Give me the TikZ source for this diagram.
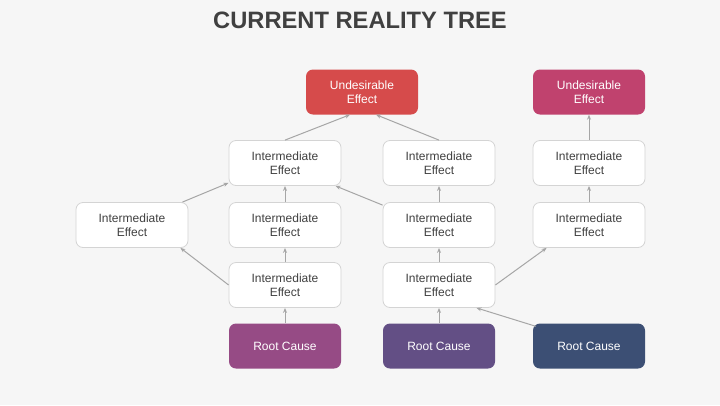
\documentclass[tikz,border=0pt]{standalone}
\usepackage{fontspec}
\setmainfont{Liberation Sans}
\usetikzlibrary{arrows.meta,calc}
\definecolor{bgcol}{HTML}{F6F6F6}
\definecolor{txtcol}{HTML}{404040}
\definecolor{linecol}{HTML}{A6A6A6}
\definecolor{boxline}{HTML}{D4D4D4}
\definecolor{uered}{HTML}{D64B4B}
\definecolor{uepink}{HTML}{C0426E}
\definecolor{rcplum}{HTML}{964B85}
\definecolor{rcviolet}{HTML}{634F85}
\definecolor{rcnavy}{HTML}{3C4F74}
\tikzset{
	effect/.style={draw=boxline, fill=white, rounded corners=7pt, line width=0.8pt,
		minimum width=112pt, minimum height=45pt, inner sep=0pt, align=center,
		text=txtcol, font=\fontsize{12}{14}\selectfont},
	solid box/.style={fill=#1, rounded corners=7pt, minimum width=112pt,
		minimum height=45pt, inner sep=0pt, align=center, text=white,
		font=\fontsize{12}{14}\selectfont},
	link/.style={draw=linecol, line width=1pt, -{Stealth[length=5pt,width=4pt]}}
}
\begin{document}
\begin{tikzpicture}[x=1pt,y=-1pt]
\fill[bgcol] (0,0) rectangle (720,405);
\useasboundingbox (0,0) rectangle (720,405);
\node[text=txtcol, font=\fontsize{23.7}{26}\selectfont\bfseries] (title) at (360,20) {CURRENT REALITY TREE};
\node[solid box=uered] (u1) at (362,92) {Undesirable\\Effect};
\node[solid box=uepink] (u2) at (589,92) {Undesirable\\Effect};
\node[effect] (m21) at (285,163) {Intermediate\\Effect};
\node[effect] (m22) at (439,163) {Intermediate\\Effect};
\node[effect] (m23) at (589,163) {Intermediate\\Effect};
\node[effect] (m31) at (132,225) {Intermediate\\Effect};
\node[effect] (m32) at (285,225) {Intermediate\\Effect};
\node[effect] (m33) at (439,225) {Intermediate\\Effect};
\node[effect] (m34) at (589,225) {Intermediate\\Effect};
\node[effect] (m41) at (285,285) {Intermediate\\Effect};
\node[effect] (m42) at (439,285) {Intermediate\\Effect};
\node[solid box=rcplum] (r1) at (285,346) {Root Cause};
\node[solid box=rcviolet] (r2) at (439,346) {Root Cause};
\node[solid box=rcnavy] (r3) at (589,346) {Root Cause};
\draw[link] (m21.north) -- ($(u1.south)+(-12,0)$);
\draw[link] (m22.north) -- ($(u1.south)+(14,0)$);
\draw[link] ($(m31.north east)+(-6,0)$) -- ($(m21.south west)+(0,-3)$);
\draw[link] (m32.north) -- (m21.south);
\draw[link] ($(m33.north west)+(0,3)$) -- ($(m21.south east)+(-6,0)$);
\draw[link] (m33.north) -- (m22.south);
\draw[link] (m41.west) -- ($(m31.south east)+(-8,0)$);
\draw[link] (m41.north) -- (m32.south);
\draw[link] (m42.north) -- (m33.south);
\draw[link] (m42.east) -- ($(m34.south west)+(14,0)$);
\draw[link] (m34.north) -- (m23.south);
\draw[link] (m23.north) -- (u2.south);
\draw[link] (r1.north) -- (m41.south);
\draw[link] (r2.north) -- (m42.south);
\draw[link] ($(r3.north west)+(3,3)$) -- ($(m42.south east)+(-19,0)$);
\end{tikzpicture}
\end{document}
